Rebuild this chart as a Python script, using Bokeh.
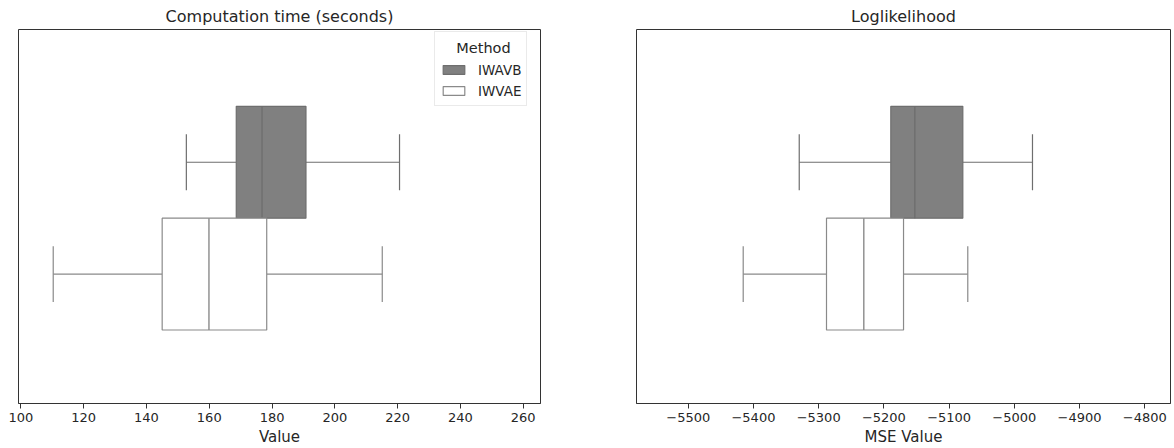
from bokeh.plotting import figure
from bokeh.layouts import row
from bokeh.models import Range1d, FixedTicker, Legend, LegendItem, Label
from bokeh.embed import file_html
from bokeh.resources import INLINE

# ---------------- data ----------------
methods = ["IWAVB", "IWVAE"]

time_lo = [152.7, 110.3]
time_q1 = [168.6, 145.0]
time_med = [176.8, 159.9]
time_q3 = [190.8, 178.3]
time_hi = [220.6, 215.1]

ll_lo = [-5329.8, -5415.7]
ll_q1 = [-5189.4, -5288.0]
ll_med = [-5152.6, -5230.8]
ll_q3 = [-5079.0, -5169.9]
ll_hi = [-4972.2, -5071.4]

time_ticks = [100, 120, 140, 160, 180, 200, 220, 240, 260]
ll_ticks = [-5500, -5400, -5300, -5200, -5100, -5000, -4900, -4800]

# ---------------- style ----------------
FONT = "DejaVu Sans"
TXT = "#262626"
fills = ["#808080", "#ffffff"]
lines = ["#6e6e6e", "#8a8a8a"]
ypos = [0.2, -0.2]   # hue dodge positions
BOX_H = 0.4
CAP = 0.1


def make_fig(title, xlabel, xr, ticks, lo, q1, med, q3, hi, width, bl, br, legend=False):
    p = figure(width=width, height=448, output_backend="svg", toolbar_location=None,
               x_range=Range1d(*xr), y_range=Range1d(-0.663, 0.675),
               min_border_left=bl, min_border_right=br, min_border_top=0, min_border_bottom=0)
    p.title.text = title
    p.title.align = "center"
    p.title.text_font = FONT
    p.title.text_font_size = "16px"
    p.title.text_font_style = "normal"
    p.title.text_color = TXT
    p.title.standoff = 2
    p.title.padding = 3
    p.xgrid.visible = False
    p.ygrid.visible = False
    p.yaxis.visible = False
    p.outline_line_color = "#333333"
    p.outline_line_width = 1
    p.background_fill_color = "white"
    p.border_fill_color = "white"

    ax = p.xaxis[0]
    ax.ticker = FixedTicker(ticks=ticks)
    ax.major_label_overrides = {t: str(t).replace("-", "\u2212") for t in ticks}
    ax.axis_label = xlabel
    ax.axis_label_text_font = FONT
    ax.axis_label_text_font_size = "15px"
    ax.axis_label_text_font_style = "normal"
    ax.axis_label_text_color = TXT
    ax.axis_label_standoff = 3
    ax.major_label_text_font = FONT
    ax.major_label_text_font_size = "13px"
    ax.major_label_text_color = TXT
    ax.major_label_standoff = 4
    ax.major_tick_out = 5
    ax.major_tick_in = 0
    ax.minor_tick_out = 0
    ax.minor_tick_in = 0
    ax.axis_line_color = "#333333"
    ax.major_tick_line_color = "#333333"

    items = []
    for i, m in enumerate(methods):
        y = ypos[i]
        lc = lines[i]
        # whiskers
        p.segment(x0=[lo[i], q3[i]], y0=[y, y], x1=[q1[i], hi[i]], y1=[y, y],
                  line_color=lc, line_width=1.2)
        # caps
        p.segment(x0=[lo[i], hi[i]], y0=[y - CAP, y - CAP], x1=[lo[i], hi[i]], y1=[y + CAP, y + CAP],
                  line_color=lc, line_width=1.2)
        # box
        r = p.hbar(y=[y], height=BOX_H, left=[q1[i]], right=[q3[i]],
                   fill_color=fills[i], line_color=lc, line_width=1.2)
        # median
        p.segment(x0=[med[i]], y0=[y - BOX_H / 2], x1=[med[i]], y1=[y + BOX_H / 2],
                  line_color=lc, line_width=1.4)
        items.append(LegendItem(label=m, renderers=[r]))

    if legend:
        lg = Legend(items=items, location=(416, 297), title=" ")
        lg.title_text_font = FONT
        lg.title_text_font_size = "14.5px"
        lg.title_text_font_style = "normal"
        lg.title_text_color = TXT
        lg.title_standoff = 7
        lg.label_text_font = FONT
        lg.label_text_font_size = "13.5px"
        lg.label_text_color = TXT
        lg.glyph_width = 27
        lg.glyph_height = 11
        lg.label_height = 19
        lg.label_standoff = 11
        lg.spacing = 2
        lg.padding = 5
        lg.margin = 0
        lg.border_line_color = "#d6d6d6"
        lg.border_line_width = 1
        lg.background_fill_alpha = 0
        lg.title_location = "above"
        p.add_layout(lg, "center")
        # centred legend title
        p.add_layout(Label(x=465, y=356, x_units="screen", y_units="screen", text="Method",
                           text_align="center", text_baseline="middle", level="overlay",
                           text_font=FONT, text_font_size="14.5px", text_color=TXT))
    return p


p1 = make_fig("Computation time (seconds)", "Value", (99.24, 265.5), time_ticks,
              time_lo, time_q1, time_med, time_q3, time_hi, width=568, bl=18, br=28, legend=True)
p2 = make_fig("Loglikelihood", "MSE Value", (-5579.3, -4760.6), ll_ticks,
              ll_lo, ll_q1, ll_med, ll_q3, ll_hi, width=606, bl=68, br=4)

layout = row(p1, p2, spacing=0)
open("out.html", "w").write(file_html(layout, INLINE))
